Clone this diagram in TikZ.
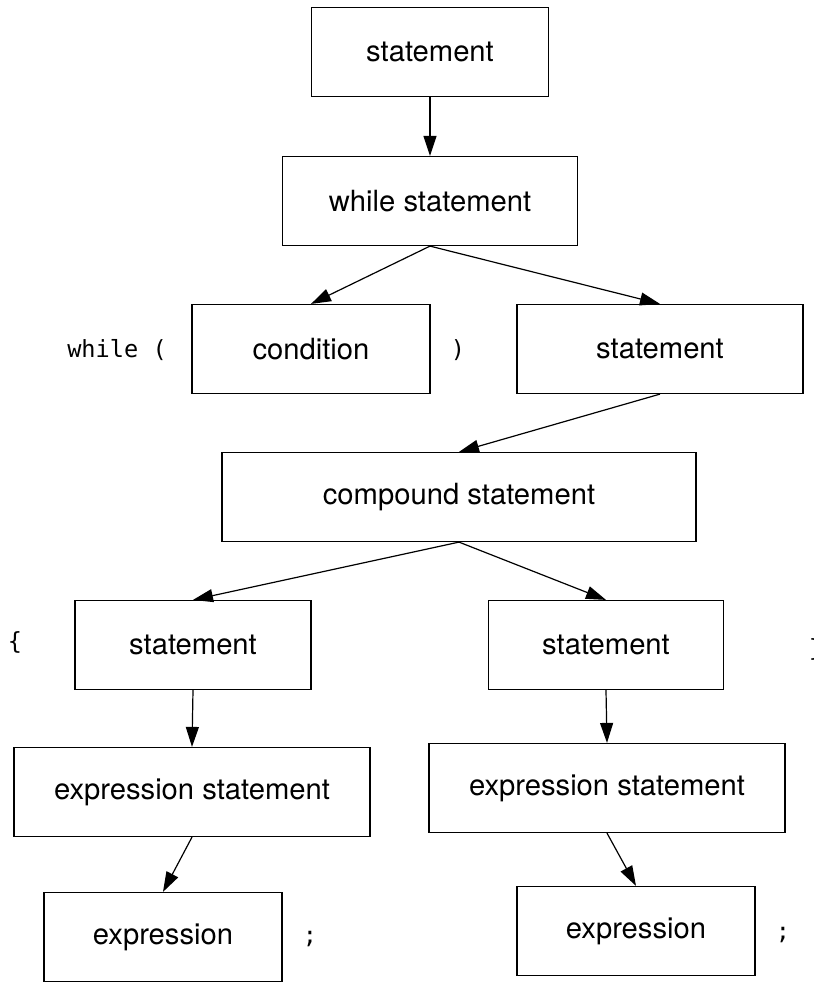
\documentclass[tikz,border=0pt]{standalone}
\usepackage{fontspec}
\setmainfont{TeX Gyre Heros}
\setmonofont{DejaVu Sans Mono}
\usetikzlibrary{arrows.meta}
\begin{document}
\begin{tikzpicture}[>={Triangle[length=10pt,width=6.5pt]},x=0.5pt,y=-0.5pt,
                    box/.style={draw, line width=0.6pt, inner sep=0pt,
                      minimum height=44.5pt, font=\fontsize{14.6}{17}\selectfont},
                    code/.style={inner sep=0pt, font=\fontsize{11.8}{14}\selectfont\ttfamily},
                    link/.style={->, line width=0.6pt}]
                    \useasboundingbox (0,0) rectangle (814,982);
                    % boxes of the parse tree
                    \node[box, minimum width=118.5pt] (stmt) at (430,52) {statement};
                    \node[box, minimum width=147.5pt] (while) at (430,201) {while statement};
                    \node[box, minimum width=119pt] (cond) at (311,349) {condition};
                    \node[box, minimum width=143pt] (body) at (660,349) {statement};
                    \node[box, minimum width=237pt] (comp) at (459,497) {compound statement};
                    \node[box, minimum width=118pt] (stmtL) at (193,645) {statement};
                    \node[box, minimum width=117.5pt] (stmtR) at (606,645) {statement};
                    \node[box, minimum width=178pt] (exstL) at (192,792) {expression statement};
                    \node[box, minimum width=178pt] (exstR) at (607,788) {expression statement};
                    \node[box, minimum width=119pt] (exprL) at (163,937) {expression};
                    \node[box, minimum width=119pt] (exprR) at (636,931) {expression};
                    % tokens
                    \node[code] (kw) at (117,350) {while (};
                    \node[code] (rpar) at (458,350) {)};
                    \node[code] (lbr) at (15,642) {\{};
                    \node[code] (rbr) at (816,649) {\}};
                    \node[code] (semiL) at (310,939) {;};
                    \node[code] (semiR) at (783,935) {;};
                    % arrows
                    \draw[link] (stmt.south) -- (while.north);
                    \draw[link] (while.south) -- (cond.north);
                    \draw[link] (while.south) -- (body.north);
                    \draw[link] (body.south) -- (comp.north);
                    \draw[link] (comp.south) -- (stmtL.north);
                    \draw[link] (comp.south) -- (stmtR.north);
                    \draw[link] (stmtL.south) -- (exstL.north);
                    \draw[link] (stmtR.south) -- (exstR.north);
                    \draw[link] (exstL.south) -- (exprL.north);
                    \draw[link] (exstR.south) -- (exprR.north);
\end{tikzpicture}
\end{document}
